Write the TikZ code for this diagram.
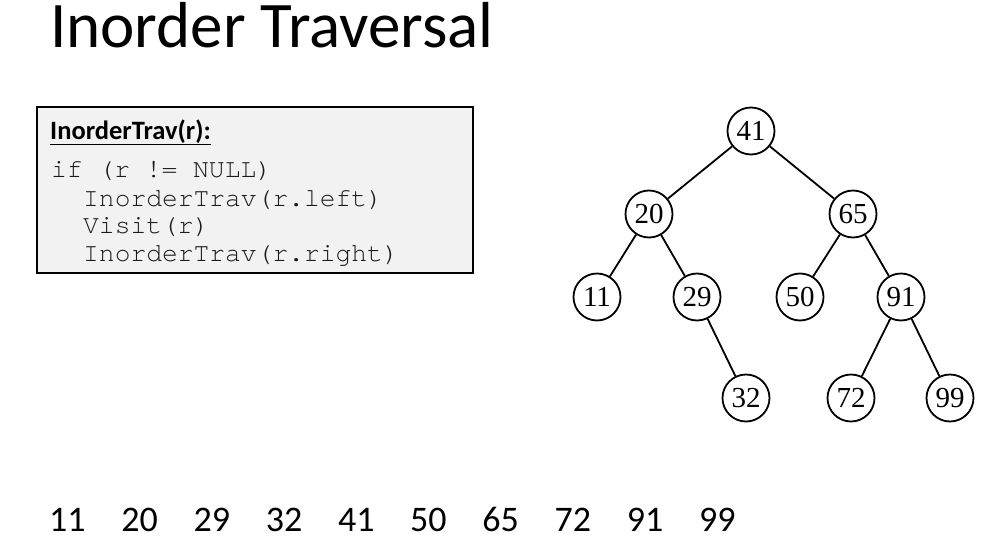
\documentclass[tikz,border=0pt]{standalone}
\usepackage{fontspec}
\setmainfont{Carlito}
\setmonofont{TeX Gyre Cursor}
\newfontfamily\keyfont{Liberation Serif}
\definecolor{codebg}{HTML}{F2F2F2}
\definecolor{codetxt}{HTML}{1A1A1A}
\begin{document}
\begin{tikzpicture}[x=1pt,y=-1pt,
    key/.style={circle,draw,line width=1.8pt,minimum size=47pt,inner sep=0pt,font=\keyfont\fontsize{29}{29}\selectfont},
    edge/.style={line width=1.8pt},
    txt/.style={anchor=base west,inner sep=0pt},
    codeline/.style={txt,text=codetxt,font=\fontsize{26.3}{26.3}\selectfont\ttfamily}]
    \useasboundingbox (0,0) rectangle (986,541);
    % title
    \node[txt,font=\fontsize{65}{65}\selectfont] (title) at (50,47) {Inorder Traversal};
    % code box
    \draw[fill=codebg,line width=1.3pt] (37,107) rectangle (473,273);
    \node[txt,font=\fontsize{26.5}{26.5}\selectfont\bfseries] (head) at (50,139) {\underline{InorderTrav(r):}};
    \node[codeline] (c1) at (51,177) {if (r != NULL)};
    \node[codeline] (c2) at (83,206) {InorderTrav(r.left)};
    \node[codeline] (c3) at (83,233) {Visit(r)};
    \node[codeline] (c4) at (83,261) {InorderTrav(r.right)};
    % tree
    \node[key] (n41) at (751,131) {41};
    \node[key] (n20) at (649,214) {20};
    \node[key] (n65) at (853,214) {65};
    \node[key] (n11) at (597,297) {11};
    \node[key] (n29) at (697,297) {29};
    \node[key] (n50) at (800,297) {50};
    \node[key] (n91) at (901,297) {91};
    \node[key] (n32) at (746,398) {32};
    \node[key] (n72) at (851,398) {72};
    \node[key] (n99) at (950,398) {99};
    \draw[edge] (n41)--(n20);
    \draw[edge] (n41)--(n65);
    \draw[edge] (n20)--(n11);
    \draw[edge] (n20)--(n29);
    \draw[edge] (n29)--(n32);
    \draw[edge] (n65)--(n50);
    \draw[edge] (n65)--(n91);
    \draw[edge] (n91)--(n72);
    \draw[edge] (n91)--(n99);
    % output
    \foreach \v [count=\i] in {11,20,29,32,41,50,65,72,91,99}
        \node[txt,font=\fontsize{36}{36}\selectfont] (out\i) at ({49+72.2*(\i-1)},531) {\v};
\end{tikzpicture}
\end{document}
